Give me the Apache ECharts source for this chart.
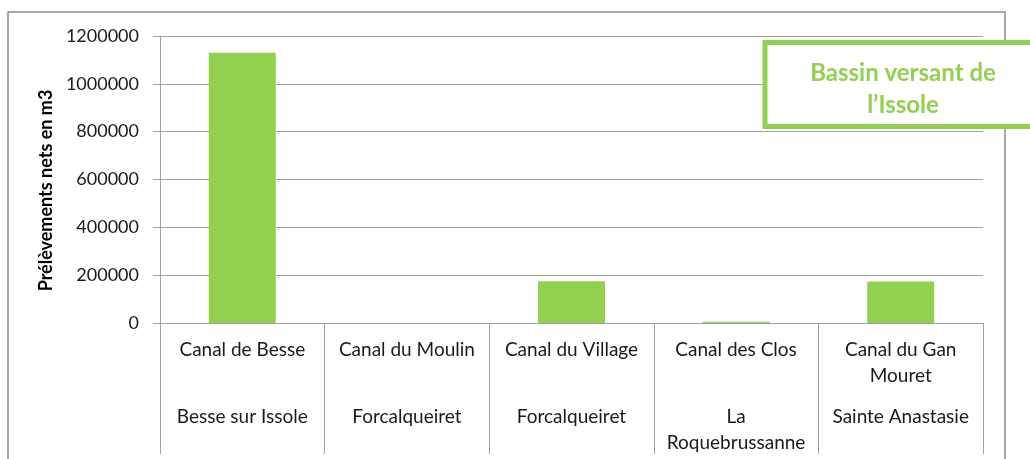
<!DOCTYPE html>
<html>
<head>
<meta charset="utf-8">
<script src="https://cdn.jsdelivr.net/npm/echarts@6/dist/echarts.min.js"></script>
<style>
  html, body { margin: 0; padding: 0; background: #fff; }
  #chart { width: 1030px; height: 459px; }
</style>
</head>
<body>
<div id="chart"></div>
<script>
// canal names, their commune, and net withdrawals (m3)
const canals = ['Canal de Besse', 'Canal du Moulin', 'Canal du Village', 'Canal des Clos', 'Canal du Gan\nMouret'];
const communes = ['Besse sur Issole', 'Forcalqueiret', 'Forcalqueiret', 'La\nRoquebrussanne', 'Sainte Anastasie'];
const prelevements = [1130000, 0, 175000, 5000, 174000];
const yTicks = [0, 200000, 400000, 600000, 800000, 1000000, 1200000];

const font = 'Lato, "Open Sans", sans-serif';
const green = '#92D050';
const grey = '#A0A0A0';

const chart = echarts.init(document.getElementById('chart'));
chart.setOption({
    animation: false,
    textStyle: { fontFamily: font },
    grid: { left: 160, right: 47, top: 36, bottom: 136 },
    xAxis: [
        {
            type: 'category',
            data: canals,
            axisLine: { lineStyle: { color: grey } },
            axisTick: { show: true, length: 131, interval: 0, lineStyle: { color: grey } },
            axisLabel: { interval: 0, margin: 14, fontSize: 19, color: '#1a1a1a', lineHeight: 26, fontFamily: font }
        },
        {
            type: 'category',
            data: communes,
            position: 'bottom',
            axisLine: { show: false },
            axisTick: { show: false },
            axisLabel: { interval: 0, margin: 81, fontSize: 19, color: '#1a1a1a', lineHeight: 26, fontFamily: font }
        }
    ],
    yAxis: {
        type: 'value',
        min: yTicks[0],
        max: yTicks[yTicks.length - 1],
        interval: 200000,
        name: 'Prélèvements nets en m3',
        nameLocation: 'middle',
        nameGap: 102,
        nameTextStyle: { fontSize: 18, fontWeight: 'bold', color: '#000', fontFamily: font, padding: [0, 22, 0, 0] },
        axisLine: { show: true, lineStyle: { color: grey } },
        axisTick: { show: true, length: 7, lineStyle: { color: grey } },
        axisLabel: { margin: 21, fontSize: 18, color: '#1a1a1a', fontFamily: font, formatter: v => String(v) },
        splitLine: { lineStyle: { color: grey } }
    },
    series: [{
        type: 'bar',
        data: prelevements,
        barWidth: 67,
        itemStyle: { color: green }
    }],
    graphic: [
        {
            type: 'rect',
            z: -10,
            shape: { x: 8, y: 12, width: 997, height: 470 },
            style: { fill: 'none', stroke: '#8c8c8c', lineWidth: 1.5 }
        },
        {
            type: 'rect',
            z: 100,
            shape: { x: 765, y: 42.5, width: 290, height: 84 },
            style: { fill: '#fff', stroke: green, lineWidth: 5 }
        },
        {
            type: 'text',
            z: 101,
            x: 903, y: 73,
            style: { text: 'Bassin versant de', fill: green, font: 'bold 24px ' + font, align: 'center', verticalAlign: 'middle' }
        },
        {
            type: 'text',
            z: 101,
            x: 903, y: 105,
            style: { text: 'l’Issole', fill: green, font: 'bold 24px ' + font, align: 'center', verticalAlign: 'middle' }
        }
    ]
});
</script>
</body>
</html>
